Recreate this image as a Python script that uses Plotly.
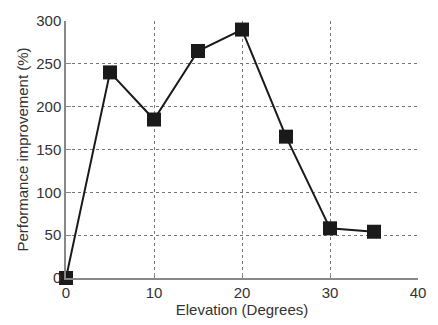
import plotly.graph_objects as go

elevation = [0, 5, 10, 15, 20, 25, 30, 35]
improvement = [0, 240, 185, 265, 290, 165, 58, 54]
x_ticks = [0, 10, 20, 30, 40]
y_ticks = [0, 50, 100, 150, 200, 250, 300]

fig = go.Figure()
fig.add_trace(go.Scatter(
    x=elevation, y=improvement, mode="lines+markers",
    line=dict(color="#1a1a1a", width=2),
    marker=dict(symbol="square", size=14, color="#1a1a1a"),
    cliponaxis=False, showlegend=False,
))

fig.update_layout(
    width=438, height=325,
    margin=dict(l=66, r=13, t=13, b=44),
    paper_bgcolor="white", plot_bgcolor="white",
    font=dict(family="Liberation Sans, Arial, sans-serif", size=15, color="#333"),
)
fig.update_xaxes(
    range=[0, 40], tickvals=x_ticks, showgrid=True,
    gridcolor="#777", griddash="dot", gridwidth=1,
    showline=True, linecolor="#888", linewidth=1.5,
    ticks="inside", ticklen=5, tickcolor="#888",
    zeroline=False,
    title=dict(text="Elevation (Degrees)", standoff=2, font=dict(size=15)),
)
fig.update_yaxes(
    range=[0, 300], tickvals=y_ticks, showgrid=True,
    gridcolor="#777", griddash="dot", gridwidth=1,
    showline=True, linecolor="#888", linewidth=1.5,
    ticks="inside", ticklen=5, tickcolor="#888",
    zeroline=False,
    title=dict(text="Performance improvement (%)", standoff=4, font=dict(size=15)),
)
fig.write_html("out.html")
